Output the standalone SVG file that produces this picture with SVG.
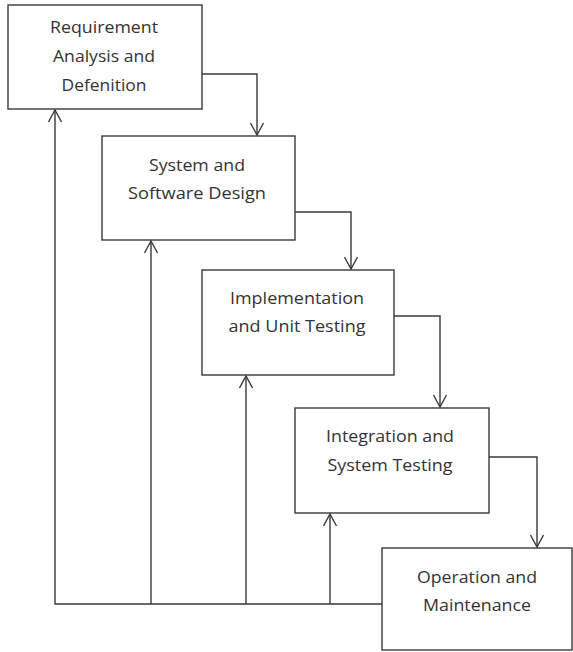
<svg xmlns="http://www.w3.org/2000/svg" width="573" height="652" viewBox="0 0 573 652">
<style>
.box{fill:#fff;stroke:#3a3a3a;stroke-width:1.4}
.lbl{font-family:"Open Sans","Liberation Sans",sans-serif;font-size:17px;fill:#333;text-anchor:middle}
.con{fill:none;stroke:#3a3a3a;stroke-width:1.4}
</style>
<defs>
<marker id="arr" viewBox="-13 -8 15 16" refX="0" refY="0" markerWidth="15" markerHeight="16" markerUnits="userSpaceOnUse" orient="auto">
<path d="M-12,-6.5 L0,0 L-12,6.5" fill="none" stroke="#3a3a3a" stroke-width="1.4"/>
</marker>
</defs>
<rect width="573" height="652" fill="#fff"/>
<g id="n1">
<rect class="box" x="8" y="5" width="194" height="104"/>
<text class="lbl" x="104" y="33" textLength="108" lengthAdjust="spacingAndGlyphs">Requirement</text>
<text class="lbl" x="104" y="62" textLength="102" lengthAdjust="spacingAndGlyphs">Analysis and</text>
<text class="lbl" x="104" y="91" textLength="85" lengthAdjust="spacingAndGlyphs">Defenition</text>
</g>
<g id="n2">
<rect class="box" x="102" y="136" width="193" height="104"/>
<text class="lbl" x="197" y="171" textLength="96" lengthAdjust="spacingAndGlyphs">System and</text>
<text class="lbl" x="197" y="199" textLength="138" lengthAdjust="spacingAndGlyphs">Software Design</text>
</g>
<g id="n3">
<rect class="box" x="202" y="270" width="192" height="105"/>
<text class="lbl" x="297" y="304" textLength="134" lengthAdjust="spacingAndGlyphs">Implementation</text>
<text class="lbl" x="297" y="332" textLength="137" lengthAdjust="spacingAndGlyphs">and Unit Testing</text>
</g>
<g id="n4">
<rect class="box" x="295" y="408" width="194" height="105"/>
<text class="lbl" x="390" y="442" textLength="128" lengthAdjust="spacingAndGlyphs">Integration and</text>
<text class="lbl" x="390" y="471" textLength="125" lengthAdjust="spacingAndGlyphs">System Testing</text>
</g>
<g id="n5">
<rect class="box" x="382" y="548" width="190" height="102"/>
<text class="lbl" x="477" y="583" textLength="120" lengthAdjust="spacingAndGlyphs">Operation and</text>
<text class="lbl" x="477" y="611" textLength="108" lengthAdjust="spacingAndGlyphs">Maintenance</text>
</g>
<g id="connectors">
<polyline class="con" points="202,74 257,74 257,135" marker-end="url(#arr)"/>
<polyline class="con" points="295,212 351,212 351,269" marker-end="url(#arr)"/>
<polyline class="con" points="394,316 440,316 440,407" marker-end="url(#arr)"/>
<polyline class="con" points="489,457 537,457 537,547" marker-end="url(#arr)"/>
<polyline class="con" points="382,604 55,604 55,110" marker-end="url(#arr)"/>
<polyline class="con" points="151,604 151,241" marker-end="url(#arr)"/>
<polyline class="con" points="246,604 246,376" marker-end="url(#arr)"/>
<polyline class="con" points="330,604 330,514" marker-end="url(#arr)"/>
</g>
</svg>
